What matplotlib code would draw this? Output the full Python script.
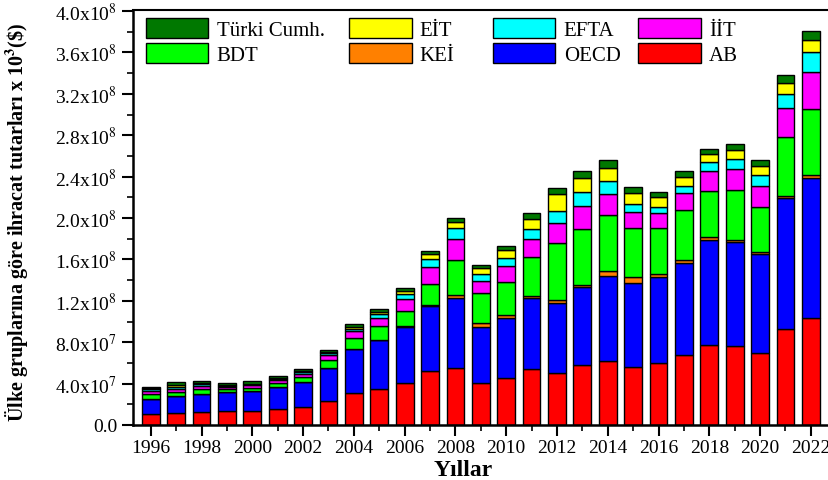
import numpy as np
import matplotlib
matplotlib.use("Agg")
import matplotlib.pyplot as plt
from matplotlib.legend import Legend
from matplotlib.ticker import MultipleLocator, FuncFormatter

plt.rcParams['font.family'] = ['Liberation Serif', 'DejaVu Serif']
plt.rcParams['mathtext.fontset'] = 'stix'

# data, export values in millions (x 10^3 $ units on the chart)
years = np.arange(1996, 2023)

ab = [10.6, 11.6, 12.9, 13.8, 13.8, 15.2, 17.1, 22.9, 30.6, 35.1, 40.6, 51.9, 55.1, 40.6,
      45.1, 53.8, 50.0, 57.7, 61.5, 55.7, 59.6, 67.6, 77.3, 76.3, 69.6, 92.8, 103.1]
oecd = [14.8, 16.1, 17.1, 18.1, 19.1, 21.2, 24.7, 32.2, 42.8, 47.0, 54.1, 63.1, 67.6, 53.8,
        58.3, 68.9, 67.9, 75.9, 82.8, 81.5, 83.1, 89.2, 101.4, 100.2, 95.6, 126.5, 135.5]
kei = [0.2, 0.2, 0.2, 0.2, 0.2, 0.2, 0.2, 0.3, 0.4, 0.5, 0.5, 0.8, 3.2, 4.2,
       2.6, 1.9, 2.6, 2.0, 4.2, 6.1, 3.5, 2.3, 2.7, 2.0, 1.9, 2.3, 2.9]
bdt = [4.0, 3.7, 4.3, 3.0, 3.0, 4.3, 4.7, 7.1, 10.0, 12.8, 14.7, 20.1, 33.2, 28.6,
       32.5, 37.4, 55.1, 54.1, 54.1, 46.7, 44.3, 48.3, 44.4, 48.3, 43.5, 56.7, 63.8]
iit = [2.9, 3.5, 3.2, 1.9, 2.5, 2.3, 2.9, 4.8, 6.7, 8.3, 11.5, 16.8, 20.6, 12.2,
       14.8, 17.4, 19.3, 21.6, 20.6, 15.8, 14.0, 16.5, 19.3, 20.3, 20.3, 27.7, 36.1]
efta = [2.0, 1.9, 1.9, 0.7, 0.7, 1.0, 1.3, 2.0, 2.6, 3.8, 5.2, 7.7, 10.3, 6.2,
        8.1, 10.3, 11.6, 13.5, 12.4, 8.0, 5.8, 7.0, 8.7, 9.9, 10.6, 13.5, 18.7]
eit = [0.9, 1.6, 1.0, 0.6, 0.6, 0.9, 1.0, 1.2, 1.6, 2.0, 2.9, 4.5, 6.4, 5.8,
       7.4, 9.0, 16.7, 13.4, 12.4, 10.4, 10.2, 9.0, 8.0, 8.4, 9.0, 10.6, 12.2]
turki = [1.6, 2.6, 1.6, 2.6, 2.3, 2.0, 1.9, 2.3, 2.6, 2.6, 3.2, 3.2, 3.6, 3.5,
         3.9, 5.8, 5.8, 7.2, 8.0, 6.0, 4.8, 5.2, 4.9, 5.8, 5.2, 8.1, 8.1]

# stacking order, bottom to top
series = [
    ("AB", ab, "#ff0000"),
    ("OECD", oecd, "#0000ff"),
    ("KEİ", kei, "#ff8000"),
    ("BDT", bdt, "#00ff00"),
    ("İİT", iit, "#ff00ff"),
    ("EFTA", efta, "#00ffff"),
    ("EİT", eit, "#ffff00"),
    ("Türki Cumh.", turki, "#007800"),
]

fig = plt.figure(figsize=(8.29, 4.81), dpi=100)
ax = fig.add_axes([133 / 829, 1 - 426 / 481, 702 / 829, 415 / 481])

bottom = np.zeros(len(years))
bars = {}
for name, vals, col in series:
    v = np.array(vals) * 1e6
    bars[name] = ax.bar(years, v, width=0.7, bottom=bottom, color=col,
                        edgecolor="black", linewidth=1.0, label=name)
    bottom += v

ax.set_xlim(1995.3, 2022.95)
ax.set_ylim(0, 4.01e8)

# ticks
ax.xaxis.set_major_locator(MultipleLocator(2))
ax.xaxis.set_minor_locator(MultipleLocator(1))
ax.yaxis.set_major_locator(MultipleLocator(4e7))
ax.yaxis.set_minor_locator(MultipleLocator(2e7))

def sci_fmt(val, pos):
    if val <= 0:
        return "0.0"
    e = int(np.floor(np.log10(val)))
    return f"{val / 10**e:.1f}x10$^{{{e}}}$"

ax.yaxis.set_major_formatter(FuncFormatter(sci_fmt))
ax.tick_params(axis="both", which="major", direction="out", length=8, width=1.5, labelsize=14)
ax.tick_params(axis="both", which="minor", direction="out", length=4, width=1.2)
ax.tick_params(axis="x", pad=2)

for s in ["left", "bottom"]:
    ax.spines[s].set_linewidth(1.8)
ax.spines["top"].set_linewidth(1.5)
ax.spines["right"].set_visible(False)

ax.set_xlabel("Yıllar", fontsize=17, fontweight="bold")
ax.xaxis.set_label_coords(0.47, -0.082)
ax.set_ylabel(r"Ülke gruplarına göre ihracat tutarları x 10$^{\mathbf{3}}$(\$)",
              fontsize=14.5, fontweight="bold")
ax.yaxis.set_label_coords(-0.147, 0.49)

# legend, one per column so positions match the original
columns = [("Türki Cumh.", "BDT"), ("EİT", "KEİ"), ("EFTA", "OECD"), ("İİT", "AB")]
col_x = [146, 349, 493, 638]
for (a, b), px in zip(columns, col_x):
    leg = Legend(ax, [bars[a], bars[b]], [a, b], loc="upper left",
                 bbox_to_anchor=((px - 133) / 702, (426 - 19) / 415),
                 frameon=False, fontsize=15, borderpad=0, borderaxespad=0,
                 handlelength=3.0, handleheight=1.1, handletextpad=0.4,
                 labelspacing=0.15)
    ax.add_artist(leg)

fig.savefig("out.png", dpi=100)
